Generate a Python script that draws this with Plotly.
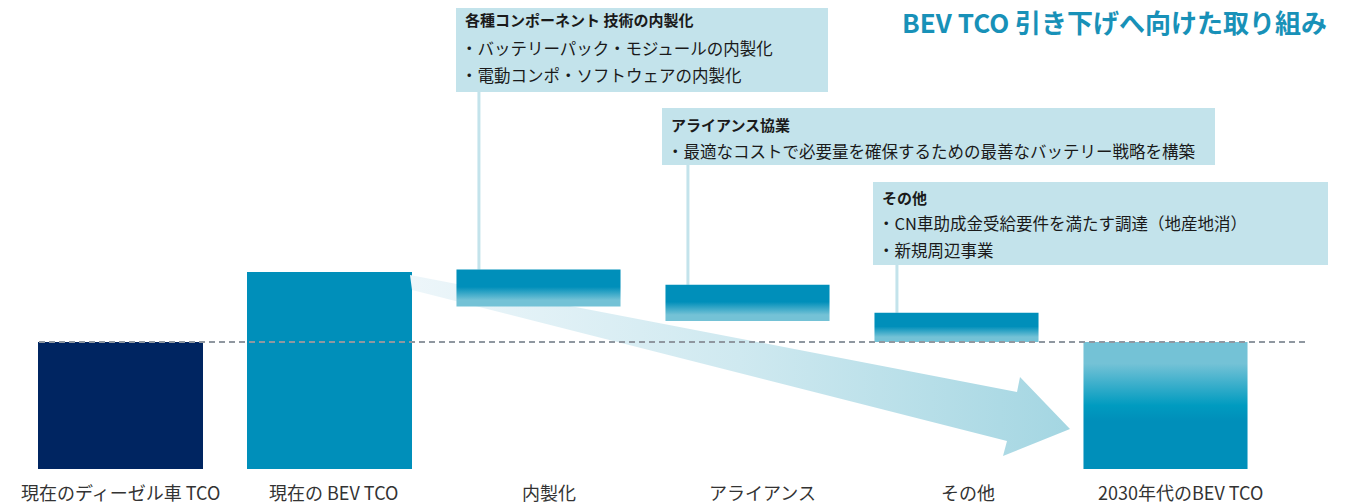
import plotly.graph_objects as go

# ---------------- data ----------------
categories = ["現在のディーゼル車 TCO", "現在の BEV TCO", "内製化", "アライアンス", "その他", "2030年代のBEV TCO"]
bar_bottom = [0, 0, 128, 116.5, 100, 0]
bar_top = [100, 155, 157, 145, 123, 100]
diesel_level = 100

box_titles = ["各種コンポーネント 技術の内製化", "アライアンス協業", "その他"]
box_lines = [
    ["・バッテリーパック・モジュールの内製化", "・電動コンポ・ソフトウェアの内製化"],
    ["・最適なコストで必要量を確保するための最善なバッテリー戦略を構築"],
    ["・CN車助成金受給要件を満たす調達（地産地消）", "・新規周辺事業"],
]
title_text = "BEV TCO 引き下げへ向けた取り組み"

# ---------------- style ----------------
W, H = 1353, 504
MB = 35
PH = H - MB
K = 1.27          # px per unit
STEP = 209.0      # px per category
C0 = 120.5        # px center of first category
BW = 0.785
FONT = "Noto Sans CJK JP"
NAVY = "#002561"
TEAL = "#008fba"
LIGHT = "#74c2d6"
BOX = "#c3e3eb"
label_xshift = [0, 4, 10, 15, 11, 15]

x_range = [(0 - C0) / STEP, (W - C0) / STEP]
y_max = PH / K


def px2x(px):
    return px / W


def py2y(py):
    return 1 - py / PH


def pxd(px):
    return (px - C0) / STEP


def pyd(py):
    return (PH - py) / K


fig = go.Figure()

# decorative arrow (behind bars)
arrow_px = [(410, 275), (1017, 392), (1020, 377), (1070, 429), (1003, 456), (1007, 441), (412, 290), (410, 275)]
fig.add_trace(go.Scatter(
    x=[pxd(p[0]) for p in arrow_px], y=[pyd(p[1]) for p in arrow_px],
    mode="lines", line=dict(width=0), fill="toself",
    fillgradient=dict(type="horizontal", colorscale=[[0, "#edf6fa"], [0.5, "#cfe9f0"], [1, "#a4d6e2"]]),
    hoverinfo="skip", showlegend=False))

# solid bars
fig.add_trace(go.Bar(
    x=[0, 1], y=[bar_top[0] - bar_bottom[0], bar_top[1] - bar_bottom[1]],
    base=[bar_bottom[0], bar_bottom[1]], width=BW,
    marker=dict(color=[NAVY, TEAL], line=dict(width=0)),
    hoverinfo="skip", showlegend=False))

# gradient bars
grad_down = [[0, LIGHT], [0.17, LIGHT], [0.53, TEAL], [1, TEAL]]
grad_up = [[0, TEAL], [0.38, TEAL], [0.5, "#009bc0"], [0.83, LIGHT], [1, LIGHT]]
for i in range(2, 6):
    x0, x1 = i - BW / 2, i + BW / 2
    b, t = bar_bottom[i], bar_top[i]
    fig.add_trace(go.Scatter(
        x=[x0, x1, x1, x0, x0], y=[b, b, t, t, b],
        mode="lines", line=dict(width=0), fill="toself",
        fillgradient=dict(type="vertical", colorscale=grad_up if i == 5 else grad_down),
        hoverinfo="skip", showlegend=False))

shapes = []
annotations = []

# boxes (px): left, top, right, bottom
boxes_px = [(456, 8, 828, 92), (662, 108, 1215, 165), (873, 182, 1328, 265)]
line_y_px = [[20, 48, 75], [125, 151], [197, 223, 250]]
for k, (l, t, r, b) in enumerate(boxes_px):
    shapes.append(dict(type="rect", xref="paper", yref="paper",
                       x0=px2x(l), x1=px2x(r), y0=py2y(b), y1=py2y(t),
                       fillcolor=BOX, line=dict(width=0), layer="below"))
    cat = k + 2
    cx = cat - 0.285
    shapes.append(dict(type="line", xref="x", yref="paper",
                       x0=cx, x1=cx, y0=bar_top[cat] / y_max, y1=py2y(b),
                       line=dict(color=BOX, width=3), layer="below"))
    texts = [box_titles[k]] + box_lines[k]
    for j, txt in enumerate(texts):
        annotations.append(dict(
            xref="paper", yref="paper", x=px2x(l + 7 if j == 0 else l + 3), y=py2y(line_y_px[k][j]),
            xanchor="left", yanchor="middle", showarrow=False,
            text=f"<b>{txt}</b>" if j == 0 else txt,
            font=dict(family=FONT, size=15 if j == 0 else 16.5, color="#1a1a1a")))

# category labels
for i, cat in enumerate(categories):
    annotations.append(dict(
        xref="x", yref="y", x=i, y=0, yanchor="middle", xanchor="center",
        yshift=-23, xshift=label_xshift[i], showarrow=False, text=cat,
        font=dict(family=FONT, size=18, color="#333333")))

# dashed reference line at diesel level
shapes.append(dict(type="line", xref="x", yref="y",
                   x0=pxd(39), x1=pxd(1308), y0=diesel_level, y1=diesel_level,
                   line=dict(color="#8f97a0", width=2, dash="6px,4px"), layer="above"))

annotations.append(dict(
    xref="paper", yref="paper", x=px2x(1329), y=py2y(21),
    xanchor="right", yanchor="middle", showarrow=False,
    text=f"<b>{title_text}</b>",
    font=dict(family=FONT, size=26, color="#1891b8")))

fig.update_layout(
    width=W, height=H,
    margin=dict(l=0, r=0, t=0, b=MB),
    plot_bgcolor="white", paper_bgcolor="white",
    shapes=shapes, annotations=annotations,
    showlegend=False, bargap=0,
    xaxis=dict(range=x_range, tickvals=list(range(6)), ticktext=[""] * 6,
               showticklabels=False, showgrid=False, zeroline=False, showline=False, ticks="",
               fixedrange=True),
    yaxis=dict(range=[0, y_max], visible=False, fixedrange=True),
)

fig.write_html("out.html")
